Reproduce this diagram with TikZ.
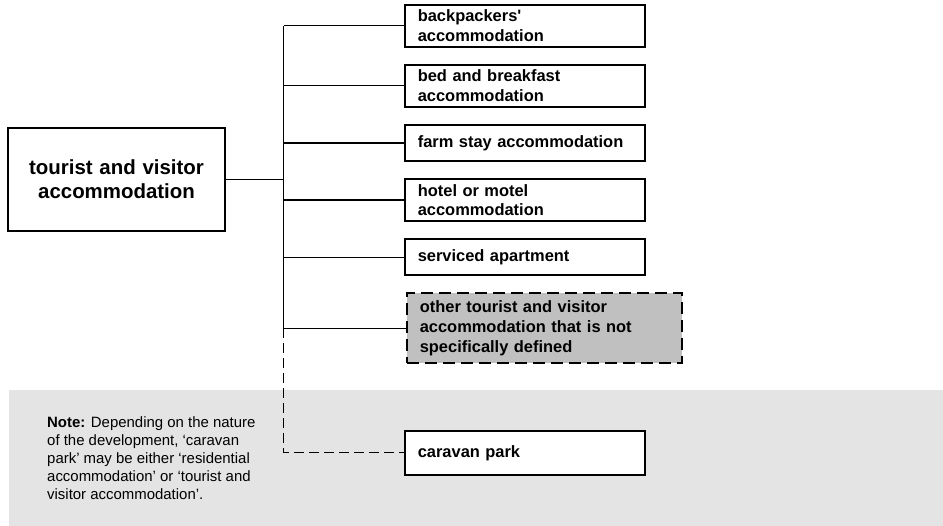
\documentclass[tikz,border=0pt]{standalone}
\usepackage{fontspec}
\newfontfamily\chartfont{Liberation Sans}
\usetikzlibrary{positioning}
\definecolor{otherfill}{RGB}{192,192,192}
\definecolor{notegray}{RGB}{228,228,228}
\tikzset{
    % Define standard node styles
    mainbox/.style={
        rectangle, draw=black, line width=1.6bp, fill=white,
        text width=190bp, align=center, minimum width=217bp, minimum height=103bp,
        font=\chartfont\bfseries\fontsize{20.5}{24}\selectfont
    },
    leafbox/.style={
        rectangle, draw=black, line width=1.6bp, fill=white,
        text width=214bp, align=left, inner xsep=13bp, inner ysep=5bp,
        minimum height=36bp,
        font=\chartfont\bfseries\fontsize{16.5}{20}\selectfont
    },
    otherbox/.style={
        leafbox, fill=otherfill, text width=249bp, minimum height=70bp,
        dash pattern=on 12bp off 6bp
    },
    link/.style={
        line width=1.2bp, color=black
    },
    dashlink/.style={
        link, dash pattern=on 10bp off 5bp
    },
    notetext/.style={
        rectangle, draw=none, fill=none, align=left, inner sep=0pt,
        font=\chartfont\fontsize{15}{18.3}\selectfont
    }
}
\begin{document}
\begin{tikzpicture}[x=1bp, y=1bp, node distance=16.5bp]

\useasboundingbox (0,0) rectangle (943,-526);
\fill[notegray] (9,-390) rectangle (943,-526);

\node[mainbox] (tourist) at (116.5,-179.5) {tourist and visitor\\accommodation};
\node[leafbox, anchor=north west] (backpackers) at (404,-4) {backpackers'\\accommodation};
\node[leafbox, below=of backpackers] (bedbreakfast) {bed and breakfast\\accommodation};
\node[leafbox, below=of bedbreakfast] (farmstay) {farm stay accommodation};
\node[leafbox, below=of farmstay] (hotel) {hotel or motel\\accommodation};
\node[leafbox, below=of hotel] (serviced) {serviced apartment};
\node[otherbox, below=of serviced.south west, anchor=north west, xshift=2bp] (other) {other tourist and visitor\\accommodation that is not\\specifically defined};
\node[leafbox, minimum height=44bp, below=66bp of other.south west, anchor=north west, xshift=-2bp] (caravan) {caravan park};
\node[notetext, anchor=north west] (note) at (47,-416) {\textbf{Note:} Depending on the nature\\of the development, ‘caravan\\park’ may be either ‘residential\\accommodation’ or ‘tourist and\\visitor accommodation’.};

\draw[link] (tourist.east) -- ++(58,0) coordinate (split);
\draw[link] (split |- backpackers.west) -- (split |- other.west);
\draw[link] (split |- backpackers.west) -- (backpackers.west);
\draw[link] (split |- bedbreakfast.west) -- (bedbreakfast.west);
\draw[link] (split |- farmstay.west) -- (farmstay.west);
\draw[link] (split |- hotel.west) -- (hotel.west);
\draw[link] (split |- serviced.west) -- (serviced.west);
\draw[link] (split |- other.west) -- (other.west);
\draw[dashlink] (split |- other.west) |- (caravan.west);

\end{tikzpicture}
\end{document}
